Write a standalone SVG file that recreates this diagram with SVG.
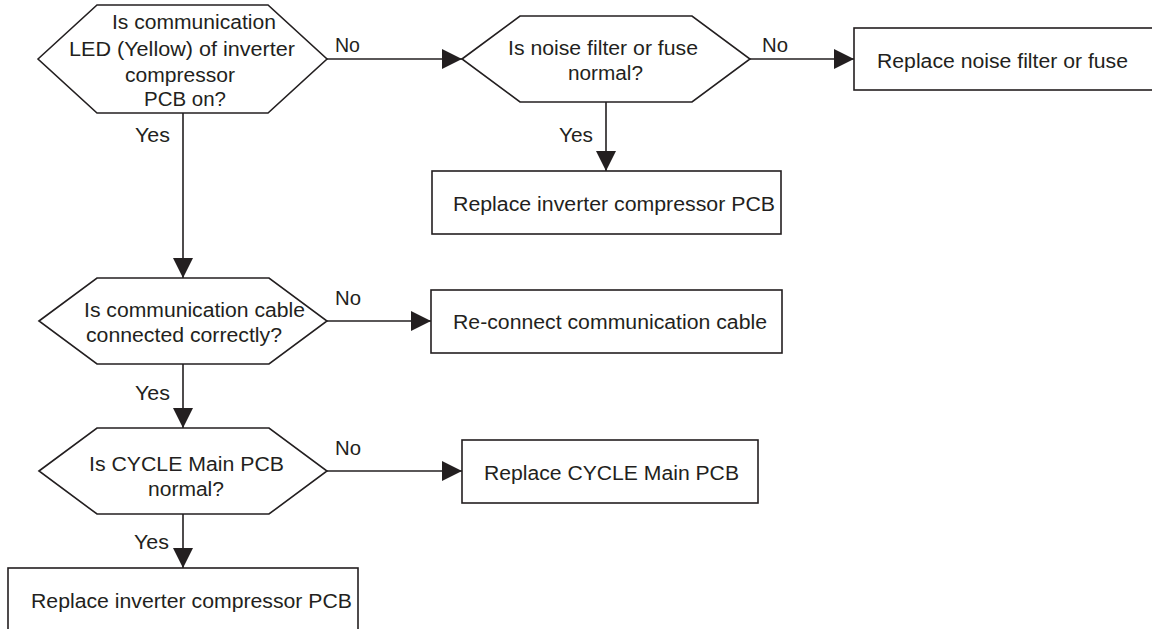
<svg xmlns="http://www.w3.org/2000/svg" width="1152" height="629" viewBox="0 0 1152 629">
<defs>
<marker id="arr" viewBox="0 0 20 20" refX="20" refY="10" markerWidth="20" markerHeight="20" markerUnits="userSpaceOnUse" orient="auto">
<path d="M0,0 L20,10 L0,20 Z" fill="#231f20"/>
</marker>
<style>
.shape{fill:#fff;stroke:#231f20;stroke-width:1.6}
.conn{fill:none;stroke:#231f20;stroke-width:1.6}
text{font-family:"Liberation Sans",Arial,sans-serif;font-size:20px;fill:#231f20}
.c{text-anchor:start}
</style>
</defs>
<rect width="1152" height="629" fill="#fff"/>
<g id="connectors">
<line class="conn" x1="327" y1="59" x2="462" y2="59" marker-end="url(#arr)"/>
<line class="conn" x1="750" y1="59" x2="854" y2="59" marker-end="url(#arr)"/>
<line class="conn" x1="606" y1="102" x2="606" y2="171" marker-end="url(#arr)"/>
<line class="conn" x1="183" y1="113" x2="183" y2="278" marker-end="url(#arr)"/>
<line class="conn" x1="327" y1="321" x2="431" y2="321" marker-end="url(#arr)"/>
<line class="conn" x1="183" y1="364" x2="183" y2="428" marker-end="url(#arr)"/>
<line class="conn" x1="327" y1="471" x2="462" y2="471" marker-end="url(#arr)"/>
<line class="conn" x1="183" y1="514" x2="183" y2="568" marker-end="url(#arr)"/>
<text x="335" y="52" textLength="25" lengthAdjust="spacingAndGlyphs">No</text>
<text x="135" y="142" textLength="35" lengthAdjust="spacingAndGlyphs">Yes</text>
<text x="762" y="52" textLength="26" lengthAdjust="spacingAndGlyphs">No</text>
<text x="559" y="142" textLength="34" lengthAdjust="spacingAndGlyphs">Yes</text>
<text x="335" y="305" textLength="26" lengthAdjust="spacingAndGlyphs">No</text>
<text x="135" y="400" textLength="35" lengthAdjust="spacingAndGlyphs">Yes</text>
<text x="335" y="455" textLength="26" lengthAdjust="spacingAndGlyphs">No</text>
<text x="134" y="549" textLength="35" lengthAdjust="spacingAndGlyphs">Yes</text>
</g>
<g id="q1">
<polygon class="shape" points="38,59 97,5 268,5 327,59 268,113 97,113"/>
<text x="112" y="29" textLength="164" lengthAdjust="spacingAndGlyphs">Is communication</text>
<text x="69" y="56" textLength="226" lengthAdjust="spacingAndGlyphs">LED (Yellow) of inverter</text>
<text x="125" y="82" textLength="110" lengthAdjust="spacingAndGlyphs">compressor</text>
<text x="144" y="106" textLength="82" lengthAdjust="spacingAndGlyphs">PCB on?</text>
</g>
<g id="q2">
<polygon class="shape" points="462,59 520,16 692,16 750,59 692,102 520,102"/>
<text x="508" y="55" textLength="190" lengthAdjust="spacingAndGlyphs">Is noise filter or fuse</text>
<text x="568" y="80" textLength="75" lengthAdjust="spacingAndGlyphs">normal?</text>
</g>
<g id="a1">
<rect class="shape" x="854" y="28" width="310" height="62"/>
<text x="877" y="68" textLength="251" lengthAdjust="spacingAndGlyphs">Replace noise filter or fuse</text>
</g>
<g id="a2">
<rect class="shape" x="432" y="171" width="349" height="63"/>
<text x="453" y="211" textLength="322" lengthAdjust="spacingAndGlyphs">Replace inverter compressor PCB</text>
</g>
<g id="q3">
<polygon class="shape" points="39,321 97,278 269,278 327,321 269,364 97,364"/>
<text x="84" y="317" textLength="221" lengthAdjust="spacingAndGlyphs">Is communication cable</text>
<text x="86" y="342" textLength="196" lengthAdjust="spacingAndGlyphs">connected correctly?</text>
</g>
<g id="a3">
<rect class="shape" x="431" y="290" width="351" height="63"/>
<text x="453" y="329" textLength="314" lengthAdjust="spacingAndGlyphs">Re-connect communication cable</text>
</g>
<g id="q4">
<polygon class="shape" points="39,471 97,428 269,428 327,471 269,514 97,514"/>
<text x="89" y="471" textLength="195" lengthAdjust="spacingAndGlyphs">Is CYCLE Main PCB</text>
<text x="148" y="496" textLength="76" lengthAdjust="spacingAndGlyphs">normal?</text>
</g>
<g id="a4">
<rect class="shape" x="462" y="440" width="296" height="63"/>
<text x="484" y="480" textLength="255" lengthAdjust="spacingAndGlyphs">Replace CYCLE Main PCB</text>
</g>
<g id="a5">
<rect class="shape" x="8" y="568" width="350" height="70"/>
<text x="31" y="608" textLength="321" lengthAdjust="spacingAndGlyphs">Replace inverter compressor PCB</text>
</g>
</svg>
